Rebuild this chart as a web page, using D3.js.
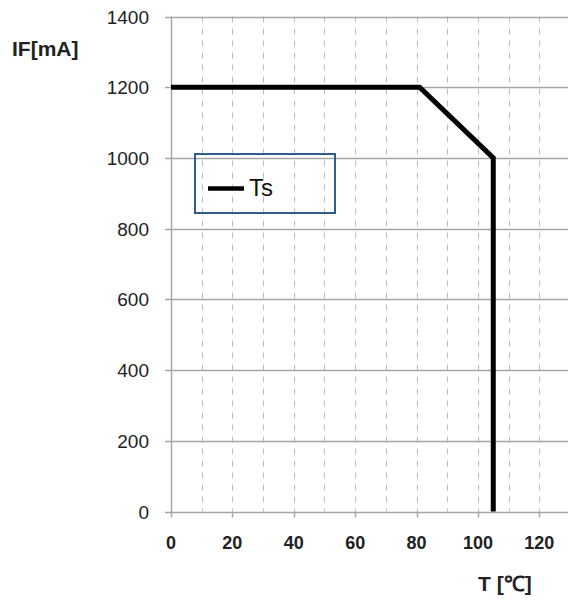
<!DOCTYPE html>
<html><head><meta charset="utf-8">
<script src="https://cdn.jsdelivr.net/npm/d3@7"></script>
<style>body{margin:0;background:#fff}svg{display:block}</style>
</head><body>
<svg id="c" width="568" height="601"></svg>
<script>
const seriesName = "Ts";
const tempValues = [0, 81, 105, 105];
const currentValues = [1200, 1200, 1000, 0];
const xTicks = [0, 20, 40, 60, 80, 100, 120];
const xMinorGrid = [10, 20, 30, 40, 50, 60, 70, 80, 90, 100, 110, 120];
const yTicks = [0, 200, 400, 600, 800, 1000, 1200, 1400];
const xLabel = "T [\u2103]";
const yLabel = "IF[mA]";

const svg = d3.select("#c");
const x = d3.scaleLinear().domain([0, 130]).range([171, 570]);
const y = d3.scaleLinear().domain([0, 1400]).range([511.5, 16.5]);
const font = "'Liberation Sans', Arial, sans-serif";

// vertical dashed gridlines
svg.append("g").selectAll("line").data(xMinorGrid).join("line")
  .attr("x1", d => Math.round(x(d)) + 0.5).attr("x2", d => Math.round(x(d)) + 0.5)
  .attr("y1", y(1400)).attr("y2", y(0))
  .attr("stroke", "#bdbdbd").attr("stroke-width", 1).attr("stroke-dasharray", "6,6");

// horizontal gridlines
svg.append("g").selectAll("line").data(yTicks).join("line")
  .attr("x1", 165).attr("x2", 568)
  .attr("y1", d => Math.round(y(d)) + 0.5).attr("y2", d => Math.round(y(d)) + 0.5)
  .attr("stroke", "#a6a6a6").attr("stroke-width", 1.3);

// y axis line
svg.append("line").attr("x1", 171.5).attr("x2", 171.5).attr("y1", y(1400)).attr("y2", y(0) + 1)
  .attr("stroke", "#a6a6a6").attr("stroke-width", 1.5);

// x axis ticks
svg.append("g").selectAll("line").data(xTicks).join("line")
  .attr("x1", d => Math.round(x(d)) + 0.5).attr("x2", d => Math.round(x(d)) + 0.5)
  .attr("y1", y(0)).attr("y2", y(0) + 6)
  .attr("stroke", "#a6a6a6").attr("stroke-width", 1.5);

// y tick labels
svg.append("g").selectAll("text").data(yTicks).join("text")
  .attr("x", 149).attr("y", d => y(d) + 7)
  .attr("text-anchor", "end").attr("font-family", font).attr("font-size", 19)
  .attr("fill", "#222").text(d => d);

// x tick labels
svg.append("g").selectAll("text").data(xTicks).join("text")
  .attr("x", d => x(d)).attr("y", y(0) + 37)
  .attr("text-anchor", "middle").attr("font-family", font).attr("font-size", 18)
  .attr("font-weight", "bold").attr("fill", "#222").text(d => d);

// axis titles
svg.append("text").attr("x", 12).attr("y", 56).attr("font-family", font)
  .attr("font-size", 21).attr("font-weight", "bold").attr("fill", "#222").text(yLabel);
svg.append("text").attr("x", 478).attr("y", 591).attr("font-family", font)
  .attr("font-size", 21).attr("font-weight", "bold").attr("fill", "#222").text(xLabel);

// data line
const pts = tempValues.map((t, i) => [t, currentValues[i]]);
svg.append("path").datum(pts)
  .attr("d", d3.line().x(d => x(d[0])).y(d => y(d[1])))
  .attr("fill", "none").attr("stroke", "#000").attr("stroke-width", 5)
  .attr("stroke-linejoin", "miter");

// legend
svg.append("rect").attr("x", 195).attr("y", 154).attr("width", 140).attr("height", 59)
  .attr("fill", "none").attr("stroke", "#2f5d8e").attr("stroke-width", 2);
svg.append("line").attr("x1", 208).attr("x2", 244).attr("y1", 188.5).attr("y2", 188.5)
  .attr("stroke", "#000").attr("stroke-width", 4.5);
svg.append("text").attr("x", 249).attr("y", 196).attr("font-family", font)
  .attr("font-size", 24).attr("fill", "#111").text(seriesName);
</script>
</body></html>
